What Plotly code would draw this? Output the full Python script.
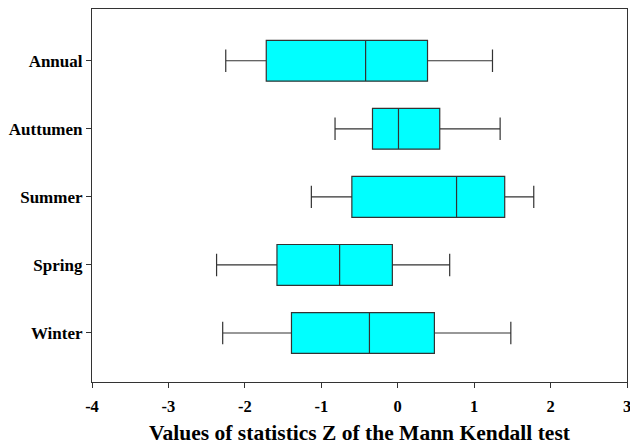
import plotly.graph_objects as go

# Mann-Kendall Z statistics summarised per season
seasons = ["Winter", "Spring", "Summer", "Auttumen", "Annual"]
lower = [-2.29, -2.37, -1.13, -0.82, -2.25]
q1 = [-1.39, -1.58, -0.60, -0.33, -1.72]
median = [-0.37, -0.76, 0.77, 0.01, -0.42]
q3 = [0.48, -0.07, 1.40, 0.55, 0.39]
upper = [1.48, 0.68, 1.78, 1.34, 1.24]

x_ticks = [-4, -3, -2, -1, 0, 1, 2, 3]

font_family = "Liberation Serif"

fig = go.Figure()
fig.add_trace(go.Box(
    y=seasons,
    q1=q1,
    median=median,
    q3=q3,
    lowerfence=lower,
    upperfence=upper,
    orientation="h",
    fillcolor="#00FFFF",
    line=dict(color="#333333", width=1.2),
    width=0.6,
    whiskerwidth=0.55,
    boxpoints=False,
    showlegend=False,
    hoverinfo="skip",
))

fig.update_layout(
    width=630,
    height=446,
    margin=dict(l=92, r=3, t=9, b=64),
    paper_bgcolor="white",
    plot_bgcolor="white",
    font=dict(family=font_family, color="black"),
    xaxis=dict(
        range=[-4, 3],
        tickmode="array",
        tickvals=x_ticks,
        ticktext=[str(v) for v in x_ticks],
        ticks="outside",
        ticklen=5,
        tickwidth=1.2,
        tickcolor="#333333",
        ticklabeloverflow="allow",
        ticklabelstandoff=4,
        automargin=False,
        showline=True,
        linecolor="#333333",
        linewidth=1.2,
        mirror=True,
        showgrid=False,
        zeroline=False,
        tickfont=dict(family=font_family, size=16.5, color="black", weight="bold"),
        title=dict(
            text="Values of statistics Z of the Mann Kendall test",
            font=dict(family=font_family, size=21.5, color="black", weight="bold"),
            standoff=10,
        ),
    ),
    yaxis=dict(
        type="category",
        categoryorder="array",
        categoryarray=seasons,
        range=[-0.72, 4.76],
        ticks="outside",
        ticklen=5,
        tickwidth=1.2,
        tickcolor="#333333",
        automargin=False,
        showline=True,
        linecolor="#333333",
        linewidth=1.2,
        mirror=True,
        showgrid=False,
        zeroline=False,
        tickfont=dict(family=font_family, size=17, color="black", weight="bold"),
    ),
)

fig.write_html("out.html")
